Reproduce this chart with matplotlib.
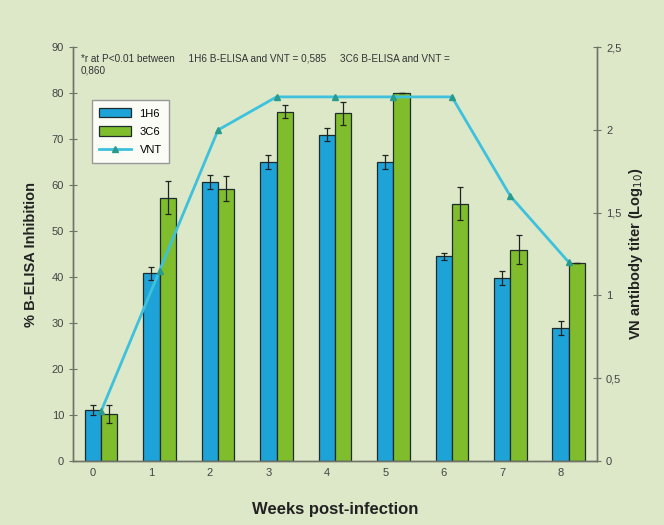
import matplotlib
matplotlib.use("Agg")
import matplotlib.pyplot as plt
import numpy as np

plt.rcParams['font.family'] = ['Liberation Sans', 'DejaVu Sans']

weeks = [0, 1, 2, 3, 4, 5, 6, 7, 8]
h6 = [11.1, 40.8, 60.6, 65.0, 71.0, 65.0, 44.5, 39.8, 29.0]
h6_err = [1.0, 1.5, 1.5, 1.5, 1.5, 1.5, 0.8, 1.5, 1.5]
c6 = [10.2, 57.3, 59.2, 76.0, 75.6, 80.0, 56.0, 46.0, 43.0]
c6_err = [2.0, 3.5, 2.7, 1.5, 2.5, 0.0, 3.5, 3.2, 0.0]
vnt = [0.30, 1.15, 2.0, 2.2, 2.2, 2.2, 2.2, 1.6, 1.2]

bg = "#dde8c9"
x = np.arange(len(weeks))
w = 0.28

fig = plt.figure(figsize=(6.64, 5.25), dpi=100, facecolor=bg)
ax = fig.add_axes([0.110, 0.122, 0.789, 0.788], facecolor=bg)
ax2 = ax.twinx()

b1 = ax.bar(x - w / 2, h6, w, color="#1ea3d9", edgecolor="#1d2b2a", linewidth=0.9,
            yerr=h6_err, error_kw=dict(ecolor="#222222", elinewidth=0.9, capsize=2.5, capthick=0.9),
            label="1H6")
b2 = ax.bar(x + w / 2, c6, w, color="#80bd2c", edgecolor="#1d2b2a", linewidth=0.9,
            yerr=c6_err, error_kw=dict(ecolor="#222222", elinewidth=0.9, capsize=2.5, capthick=0.9),
            label="3C6")
ln, = ax2.plot(x, vnt, color="#3ec1dc", linewidth=2.0, marker="^", markersize=4,
               markerfacecolor="#2a9b8a", markeredgecolor="#2a9b8a", label="VNT")

ax.set_xlim(-0.48, 8.48)
ax.set_ylim(0, 90)
ax.set_yticks(range(0, 91, 10))
ax2.set_ylim(0, 2.5)
ax2.set_yticks([0, 0.5, 1, 1.5, 2, 2.5])
ax2.set_yticklabels(["0", "0,5", "1", "1,5", "2", "2,5"])
ax.set_xticks(x - w / 2)
ax.set_xticklabels([str(v) for v in weeks])

for a in (ax, ax2):
    a.spines['top'].set_visible(False)
    for s in a.spines.values():
        s.set_color("#6f7468")
        s.set_linewidth(1.0)
ax.tick_params(axis='y', direction='inout', length=6, colors="#6f7468", labelcolor="#444444", labelsize=8)
ax2.tick_params(axis='y', direction='inout', length=6, colors="#6f7468", labelcolor="#444444", labelsize=8)
ax.tick_params(axis='x', length=0, labelcolor="#444444", labelsize=8, pad=5)

ax.set_xlabel("Weeks post-infection", fontsize=12, fontweight='bold', color="#222222", labelpad=17)
ax.set_ylabel("% B-ELISA Inhibition", fontsize=10.5, fontweight='bold', color="#222222", labelpad=10)
ax2.set_ylabel("VN antibody titer (Log$_{10}$)", fontsize=10.5, fontweight='bold', color="#222222",
               labelpad=4)

ax.text(0.015, 0.985,
        "*r at P<0.01 between     1H6 B-ELISA and VNT = 0,585     3C6 B-ELISA and VNT =\n0,860",
        transform=ax.transAxes, fontsize=7.2, color="#333333", va='top', ha='left', linespacing=1.3)

leg = ax.legend([b1, b2, ln], ["1H6", "3C6", "VNT"], loc='upper left',
                bbox_to_anchor=(0.025, 0.885), fontsize=8, frameon=True, fancybox=False,
                edgecolor="#999999", facecolor="#fbfcf6", framealpha=1.0,
                handlelength=2.8, handleheight=0.9, borderpad=0.7, labelspacing=0.7)

fig.savefig("out.png", dpi=100, facecolor=bg)
